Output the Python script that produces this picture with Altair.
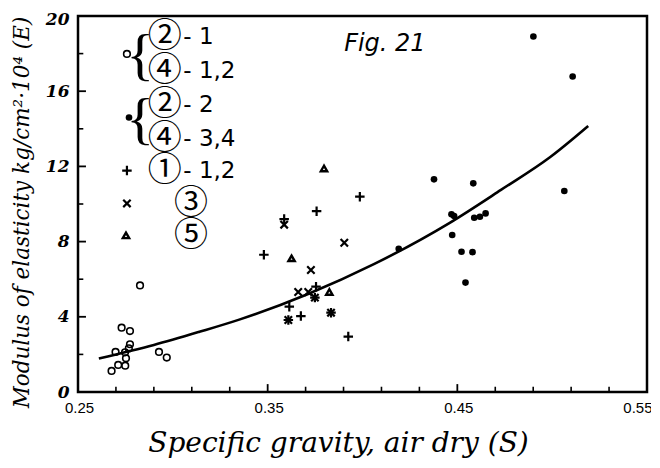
import altair as alt
import pandas as pd

# ---- data ----
# open circles: (2)-1, (4)-1,2
open_x = [0.2730, 0.2774, 0.2774, 0.2698, 0.2748, 0.2768, 0.2753, 0.2712, 0.2749, 0.2677, 0.2927, 0.2968, 0.2827]
open_y = [3.42, 3.24, 2.54, 2.13, 2.11, 2.32, 1.79, 1.44, 1.40, 1.12, 2.13, 1.83, 5.67]
# filled dots: (2)-2, (4)-3,4
dot_x = [0.4377, 0.4584, 0.4469, 0.4483, 0.4589, 0.4619, 0.4649, 0.4473, 0.4522, 0.4580, 0.4543, 0.4191, 0.4901, 0.5108, 0.5064]
dot_y = [11.31, 11.10, 9.45, 9.36, 9.27, 9.32, 9.50, 8.35, 7.46, 7.44, 5.82, 7.62, 18.91, 16.78, 10.69]
# plus: (1)-1,2
plus_x = [0.3758, 0.3986, 0.3587, 0.3480, 0.3755, 0.3614, 0.3609, 0.3675, 0.3925, 0.3749, 0.3834]
plus_y = [9.62, 10.39, 9.20, 7.30, 5.60, 4.54, 3.83, 4.04, 2.95, 5.02, 4.22]
# cross: (3)
cross_x = [0.3904, 0.3728, 0.3661, 0.3714, 0.3834, 0.3587, 0.3609, 0.3749]
cross_y = [7.94, 6.49, 5.32, 5.32, 4.22, 8.90, 3.83, 5.02]
# triangles: (5)
tri_x = [0.3797, 0.3626, 0.3825]
tri_y = [11.89, 7.11, 5.32]
# fitted curve
curve_x = [0.261, 0.290, 0.314, 0.335, 0.371, 0.406, 0.446, 0.473, 0.499, 0.519]
curve_y = [1.78, 2.50, 3.20, 3.85, 5.20, 6.80, 9.00, 10.75, 12.50, 14.15]

# tick positions
x_labels = [0.25, 0.35, 0.45, 0.55]
x_minor = [0.27, 0.29, 0.31, 0.33, 0.37, 0.39, 0.41, 0.43, 0.47, 0.49, 0.51, 0.53]
x_major = [0.35, 0.45]
y_labels = [0, 4, 8, 12, 16, 20]
y_minor = [2, 6, 10, 14, 18]
y_major = [4, 8, 12, 16]

# in-plot legend
leg_kind = ["open", "dot", "plus", "cross", "tri"]
leg_x = [0.2758, 0.2769, 0.2758, 0.2758, 0.2753]
leg_y = [17.98, 14.60, 11.78, 10.03, 8.33]
circ_text = ["②", "④", "②", "④", "①", "③", "⑤"]
circ_x = [0.2958, 0.2958, 0.2958, 0.2958, 0.2958, 0.3096, 0.3096]
circ_y = [18.88, 17.05, 15.29, 13.48, 11.73, 10.02, 8.32]
suf_text = ["- 1", "- 1,2", "- 2", "- 3,4", "- 1,2"]
suf_x = [0.3055, 0.3055, 0.3055, 0.3055, 0.3055]
suf_y = [18.88, 17.05, 15.29, 13.48, 11.73]
brace_x = [0.2828, 0.2828]
brace_y = [17.84, 14.39]
fig_text = ["Fig. 21"]
fig_x = [0.4118]
fig_y = [18.5]

# ---- chart ----
xs = alt.Scale(domain=[0.25, 0.55], nice=False, zero=False)
ys = alt.Scale(domain=[0, 20], nice=False, zero=False)

xaxis = alt.Axis(values=x_labels, format=".2f", ticks=False, domain=False, grid=False,
                 labelFont="Liberation Sans", labelFontSize=15, labelPadding=8, labelColor="black",
                 labelFlush=False,
                 labelAlign={"condition": {"test": "datum.value > 0.54", "value": "right"}, "value": "center"},
                 labelOffset={"condition": {"test": "datum.value > 0.54", "value": 5}, "value": 1},
                 title="Specific gravity, air dry  (S)", titleFont="DejaVu Serif",
                 titleFontStyle="italic", titleFontWeight="normal", titleFontSize=28,
                 titleColor="black", titleX=260, titleY=59, titleAlign="center",
                 titleBaseline="alphabetic")
yaxis = alt.Axis(values=y_labels, ticks=False, domain=False, grid=False,
                 labelFont="DejaVu Serif", labelFontStyle="italic", labelFontWeight="bold",
                 labelFontSize=17, labelPadding=9, labelColor="black", labelFlush=False,
                 labelOffset={"condition": {"test": "datum.value > 19", "value": 3}, "value": 0},
                 title="Modulus of elasticity  kg/cm²·10⁴ (E)", titleFont="DejaVu Serif",
                 titleFontStyle="italic", titleFontWeight="normal", titleFontSize=21.5,
                 titleColor="black", titleAngle=270, titleX=-56, titleY=196,
                 titleAlign="center", titleBaseline="middle")


def X(f="x"):
    return alt.X(f"{f}:Q", scale=xs, axis=xaxis)


def Y(f="y"):
    return alt.Y(f"{f}:Q", scale=ys, axis=yaxis)


def df(xv, yv, **extra):
    d = pd.DataFrame({"x": xv, "y": yv})
    for k, v in extra.items():
        d[k] = v
    return d


def with_legend(xv, yv, kind):
    i = leg_kind.index(kind)
    return df(list(xv) + [leg_x[i]], list(yv) + [leg_y[i]])


PLUS = "M-1,0L1,0M0,-1L0,1"
CROSS = "M-1,-1L1,1M-1,1L1,-1"

curve = alt.Chart(df(curve_x, curve_y)).mark_line(color="black", strokeWidth=2.6,
                                                   interpolate="monotone").encode(x=X(), y=Y())

xt_minor = alt.Chart(pd.DataFrame({"x": x_minor})).mark_rule(color="black", strokeWidth=1.6).encode(
    x=X(), y=alt.YDatum(0, scale=ys, axis=yaxis), y2=alt.Y2Datum(0.28))
xt_major = alt.Chart(pd.DataFrame({"x": x_major})).mark_rule(color="black", strokeWidth=1.8).encode(
    x=X(), y=alt.YDatum(0, scale=ys, axis=yaxis), y2=alt.Y2Datum(0.42))
yt_minor = alt.Chart(pd.DataFrame({"y": y_minor})).mark_rule(color="black", strokeWidth=1.6).encode(
    y=Y(), x=alt.XDatum(0.25, scale=xs, axis=xaxis), x2=alt.X2Datum(0.2528))
yt_major = alt.Chart(pd.DataFrame({"y": y_major})).mark_rule(color="black", strokeWidth=1.8).encode(
    y=Y(), x=alt.XDatum(0.25, scale=xs, axis=xaxis), x2=alt.X2Datum(0.2542))

opens = alt.Chart(with_legend(open_x, open_y, "open")).mark_point(
    shape="circle", filled=False, color="black", strokeWidth=1.6, size=44, opacity=1).encode(x=X(), y=Y())
dots = alt.Chart(with_legend(dot_x, dot_y, "dot")).mark_point(
    shape="circle", filled=True, color="black", size=44, opacity=1).encode(x=X(), y=Y())
pluses = alt.Chart(with_legend(plus_x, plus_y, "plus")).mark_point(
    shape=PLUS, filled=False, color="black", strokeWidth=2.2, size=90, opacity=1).encode(x=X(), y=Y())
crosses = alt.Chart(with_legend(cross_x, cross_y, "cross")).mark_point(
    shape=CROSS, filled=False, color="black", strokeWidth=2.2, size=55, opacity=1).encode(x=X(), y=Y())
tris = alt.Chart(with_legend(tri_x, tri_y, "tri")).mark_point(
    shape="triangle-up", filled=False, color="black", strokeWidth=2.4, size=40, opacity=1).encode(x=X(), y=Y())

circ = alt.Chart(df(circ_x, circ_y, t=circ_text)).mark_text(
    font="Noto Sans CJK JP", fontSize=34, color="black", align="center", baseline="middle").encode(
    x=X(), y=Y(), text="t:N")
suf = alt.Chart(df(suf_x, suf_y, t=suf_text)).mark_text(
    font="DejaVu Sans", fontSize=23, color="black", align="left", baseline="middle").encode(
    x=X(), y=Y(), text="t:N")
braces = alt.Chart(df(brace_x, brace_y, t=["{", "{"])).mark_text(
    font="Liberation Serif", fontSize=58, color="black", align="center", baseline="middle").encode(
    x=X(), y=Y(), text="t:N")
fig = alt.Chart(df(fig_x, fig_y, t=fig_text)).mark_text(
    font="DejaVu Sans", fontStyle="italic", fontSize=24, color="black", align="center",
    baseline="middle").encode(x=X(), y=Y(), text="t:N")

chart = alt.layer(curve, xt_minor, xt_major, yt_minor, yt_major, opens, dots, pluses, crosses, tris,
                  circ, suf, braces, fig).properties(
    width=569, height=376,
    padding={"left": 70, "top": 8, "right": 4, "bottom": 76},
    autosize=alt.AutoSizeParams(type="none"),
    background="white",
).configure_view(stroke="black", strokeWidth=2.5)

chart.save("out.html", embed_options={"renderer": "svg", "actions": False})
